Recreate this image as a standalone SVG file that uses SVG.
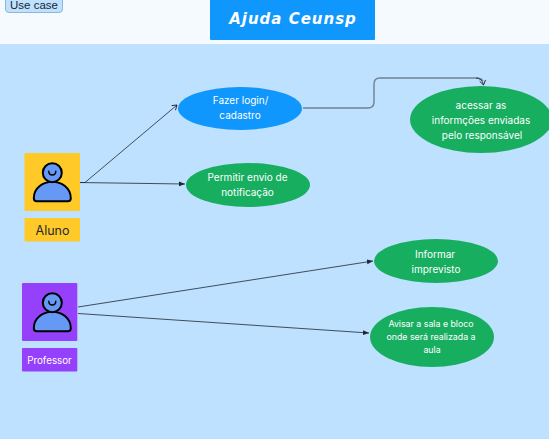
<svg xmlns="http://www.w3.org/2000/svg" width="549" height="439" viewBox="0 0 549 439">
<style>
text{font-family:Inter,"Noto Sans","Liberation Sans",sans-serif;text-anchor:middle}
.w{fill:#fff;font-size:10px}
.s{font-size:8.800px}
.g{fill:#17ae5f}
.b{fill:#0f97fd}
.c{fill:none;stroke:#1e2733;stroke-width:.8}
.e{fill:none;stroke:#6f8092;stroke-width:1.400}
.i{stroke:#000;stroke-width:2}
</style>
<defs>
<marker id="a" markerWidth="7" markerHeight="7" refX="6" refY="3" orient="auto" markerUnits="userSpaceOnUse"><path d="M0 .6L6 3L0 5.400z" fill="#1e2733"/></marker>
<marker id="o" markerWidth="7" markerHeight="8" refX="5.500" refY="4" orient="auto" markerUnits="userSpaceOnUse"><path d="M1 1L5.500 4L1 7" fill="none" stroke="#1e2733" stroke-width=".9"/></marker>
<g id="person">
<path class="i" fill="#6698f5" d="M-15.500 28.500C-17 28.500-18.500 27.500-18.500 25.500C-18.500 15-9 9 0 9C9 9 18.500 15 18.500 25.500C18.500 27.500 17 28.500 15.500 28.500Z"/>
<circle class="i" fill="#6698f5" cx="0" cy="0" r="9.500"/>
<path d="M-3.500-1.500C-3.500 3.500 3.500 3.500 3.500-1.500" fill="none" stroke="#000" stroke-width="1.400" stroke-linecap="round"/>
</g>
</defs>
<rect width="549" height="439" fill="#bde1fe"/>
<rect id="header-bar" width="549" height="44" fill="#f5faff"/>
<g id="use-case-tag"><rect x="5.500" y="-8" width="57" height="20.500" rx="3.500" fill="#bde1fe" stroke="#8fb5d6"/><text x="34" y="8.800" font-size="11.500" fill="#1c2530" style="font-family:'Liberation Sans',sans-serif">Use case</text></g>
<g id="title"><rect x="210" y="-2" width="165" height="42" rx="1" fill="#0f97fd"/><text x="293" y="24" font-size="15" font-style="italic" font-weight="bold" fill="#fff" letter-spacing="1" style="font-family:'DejaVu Sans',sans-serif">Ajuda Ceunsp</text></g>
<g id="connectors">
<path class="c" d="M78 182.500H85L177 105" marker-end="url(#o)"/>
<path class="c" d="M78 182.500L185 184" marker-end="url(#a)"/>
<path class="e" d="M303 108H368Q374 108 374 102V84Q374 78 380 78H476Q481 78 483 81"/>
<path class="c" d="M476 78Q482 78 483.500 85" marker-end="url(#o)"/>
<path class="c" d="M78 307L373 261" marker-end="url(#a)"/>
<path class="c" d="M78 313.500L369 333" marker-end="url(#a)"/>
</g>
<g id="aluno"><rect x="24.500" y="153" width="55.500" height="58" rx="1" fill="#ffc928"/><use href="#person" x="52.300" y="172.700"/></g>
<g id="aluno-label"><rect x="24.500" y="218" width="55.500" height="23.500" rx="1" fill="#ffc928"/><text x="52.500" y="234.500" font-size="12.500" fill="#1f2933">Aluno</text></g>
<g id="professor"><rect x="22" y="283" width="55.300" height="58" rx="1" fill="#9540fb"/><use href="#person" x="52.300" y="302.700"/></g>
<g id="professor-label"><rect x="22" y="348" width="55.300" height="23.500" rx="1" fill="#9540fb"/><text x="49.500" y="363.500" font-size="9.800" fill="#fff">Professor</text></g>
<g id="fazer-login"><ellipse class="b" cx="240" cy="108.500" rx="62" ry="21.500"/><text class="w" x="240.500" y="104">Fazer login/</text><text class="w" x="240" y="119">cadastro</text></g>
<g id="permitir"><ellipse class="g" cx="248" cy="185" rx="62" ry="22"/><text class="w" x="247.500" y="181">Permitir envio de</text><text class="w" x="247.500" y="196">notificação</text></g>
<g id="acessar"><ellipse class="g" cx="481" cy="119.500" rx="71" ry="33.500"/><text class="w" x="481" y="108.500">acessar as</text><text class="w" x="481" y="123.500">informções enviadas</text><text class="w" x="482" y="138.500">pelo responsável</text></g>
<g id="informar"><ellipse class="g" cx="436" cy="261" rx="62" ry="22"/><text class="w" x="435" y="257.500">Informar</text><text class="w" x="436" y="272.500">imprevisto</text></g>
<g id="avisar"><ellipse class="g" cx="432" cy="337" rx="62" ry="30"/><text class="w s" x="431" y="327">Avisar a sala e bloco</text><text class="w s" x="431" y="340">onde será realizada a</text><text class="w s" x="432" y="353">aula</text></g>
</svg>
